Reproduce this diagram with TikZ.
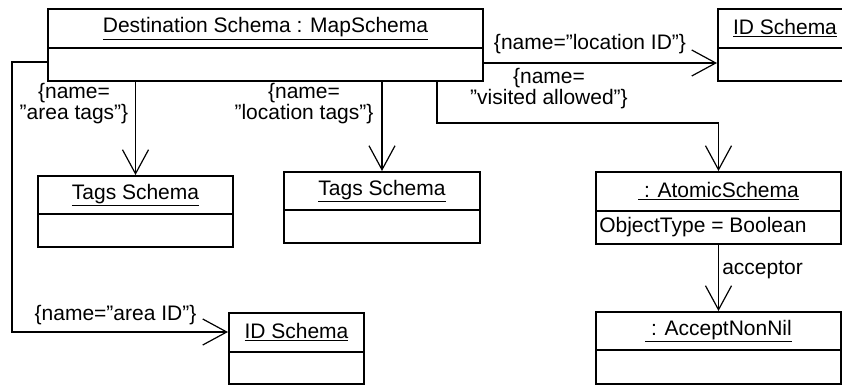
\documentclass[tikz,border=0pt]{standalone}
\usepackage{fontspec}
\setmainfont{Liberation Sans}
\usetikzlibrary{arrows.meta,fit}
\tikzset{
  box/.style={draw, line width=1.5pt, inner sep=0pt, fill=white},
  divline/.style={line width=1.5pt},
  ttl/.style={inner sep=0pt, anchor=center},
  lbl/.style={inner sep=0pt, align=center},
  conn/.style={line width=0.8pt, -{Straight Barb[length=18pt, width=19.5pt, line width=0.9pt]}},
}
\begin{document}
\begin{tikzpicture}[x=0.75pt, y=-0.75pt, font={\fontsize{15.75pt}{13.8pt}\selectfont}]
\clip (0,0) rectangle (842,385);
% boxes
\node[box, fit={(48,9) (483,81)}] (main) {};
\node[box, fit={(718,9) (852,81)}] (idtop) {};
\node[box, fit={(38,176) (233,247)}] (tagsA) {};
\node[box, fit={(284,172) (480,243)}] (tagsB) {};
\node[box, fit={(229,313) (364,384)}] (idbot) {};
\node[box, fit={(596,172) (841,244)}] (atomic) {};
\node[box, fit={(596,312) (841,384)}] (accept) {};
% dividers
\draw[divline] (main.west |- 0,48) -- (main.east |- 0,48);
\draw[divline] (idtop.west |- 0,48) -- (idtop.east |- 0,48);
\draw[divline] (tagsA.west |- 0,214) -- (tagsA.east |- 0,214);
\draw[divline] (tagsB.west |- 0,210) -- (tagsB.east |- 0,210);
\draw[divline] (idbot.west |- 0,352) -- (idbot.east |- 0,352);
\draw[divline] (atomic.west |- 0,211) -- (atomic.east |- 0,211);
\draw[divline] (accept.west |- 0,350) -- (accept.east |- 0,350);
% titles
\node[ttl] (tmain) at (265.5,28.5) {\underline{Destination Schema : MapSchema}};
\node[ttl] (tidtop) at (785,28.5) {\underline{ID Schema}};
\node[ttl] (ttagsA) at (135.5,195) {\underline{Tags Schema}};
\node[ttl] (ttagsB) at (382,191) {\underline{Tags Schema}};
\node[ttl] (tidbot) at (296.5,332.5) {\underline{ID Schema}};
\node[ttl] (tatomic) at (718.5,191.5) {\underline{\ : AtomicSchema}};
\node[ttl] (taccept) at (718.5,331) {\underline{\ : AcceptNonNil}};
\node[inner sep=0pt, anchor=west] (attr) at (599,227.5) {ObjectType = Boolean};
% connectors
\draw[conn] (tagsA.north |- main.south) -- (tagsA.north);
\draw[conn] (tagsB.north |- main.south) -- (tagsB.north);
\draw[conn] (main.south -| 437,0) -- (437,123) -| (atomic.north);
\draw[conn] (main.east |- 0,63) -- (idtop.west |- 0,63);
\draw[conn] (main.west |- 0,62) -- (12,62) |- (idbot.west |- 0,332);
\draw[conn] (atomic.south) -- (accept.north);
% labels
\node[lbl] (lA) at (74,104) {\{name=\\”area tags”\}};
\node[lbl] (lB) at (304,104) {\{name=\\”location tags”\}};
\node[lbl] (lC) at (590,44) {\{name=”location ID”\}};
\node[lbl] (lD) at (549,89) {\{name=\\”visited allowed”\}};
\node[lbl] (lE) at (115.5,315) {\{name=”area ID”\}};
\node[inner sep=0pt, anchor=west] (lF) at (722,270) {acceptor};
\end{tikzpicture}
\end{document}
